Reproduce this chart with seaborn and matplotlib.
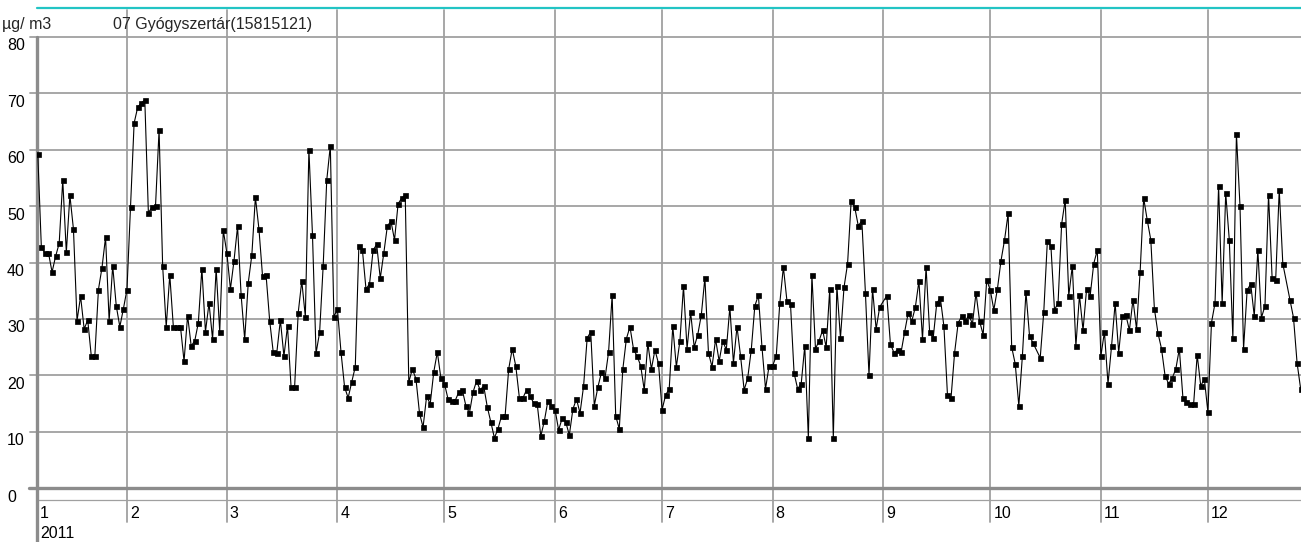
import numpy as np
import pandas as pd
import matplotlib
matplotlib.use("Agg")
import matplotlib.dates as mdates
from matplotlib import pyplot as plt
import seaborn as sns

# daily values, 07 Gyógyszertár station, 2011 (µg/m3)
seg_jan = [59.2, 42.7, 41.7, 41.7, 38.3, 41.1, 43.4, 54.6, 41.8, 51.9, 45.9, 29.7,
           34.0, 28.2, 29.8, 23.4, 23.5, 35.2, 39.1, 44.5, 29.7, 39.4, 32.3, 28.6,
           31.8, 35.2, 49.8, 64.7, 67.5, 68.3, 68.8, 48.8, 49.8, 50.0]
seg_feb = [63.5, 39.4, 28.6, 37.8, 28.6, 28.6, 28.6, 22.5, 30.6, 25.2, 26.1, 29.3,
           38.9, 27.7, 32.8, 26.4, 38.9, 27.7, 45.7, 41.7, 35.3, 40.3, 46.4, 34.2,
           26.4, 36.4, 41.3, 51.6, 45.9, 37.6, 37.7, 29.7, 24.1, 24.0, 29.8, 23.4]
seg_mar = [28.7, 17.9, 18.0, 31.1, 36.7, 30.4, 60.0, 44.9, 23.9, 27.6, 39.4, 54.6,
           60.7, 30.4, 31.7, 24.1, 17.9, 16.0, 18.8, 21.5, 42.9, 42.2, 35.3, 36.2,
           42.2, 43.2, 37.2, 41.7, 46.5, 47.3, 44.0, 50.4, 51.4, 52.0]
seg_apr = [18.8, 21.1, 19.4, 13.3, 10.8, 16.3, 14.9, 20.6, 24.1, 19.5, 18.5, 15.8,
           15.5, 15.5, 17.0, 17.4, 14.6, 13.3, 17.0, 19.0, 17.4, 18.1, 14.4, 11.7,
           8.9, 10.5, 12.8, 12.8, 21.1, 24.7, 21.6, 16.0, 16.0, 17.4, 16.3, 15.1]
seg_may = [14.9, 9.2, 11.9, 15.5, 14.6, 13.9, 10.3, 12.4, 11.7, 9.4, 14.0, 15.8,
           13.3, 18.1, 26.6, 27.7, 14.6, 17.9, 20.5, 19.5, 24.1, 34.2, 12.8, 10.5,
           21.1, 26.5, 28.6, 24.6, 23.4, 21.7, 17.4, 25.7, 21.1, 24.5, 22.1]
seg_jun = [13.9, 16.5, 17.6, 28.7, 21.5, 26.1, 35.8, 24.7, 31.2, 25.0, 27.2, 30.7,
           37.3, 24.0, 21.5, 26.4, 22.5, 26.1, 24.5, 32.1, 22.2, 28.6, 23.4, 17.4,
           19.5, 24.5, 32.3, 34.2, 25.0, 17.6, 21.7, 21.7, 23.4, 32.8, 39.2]
seg_aug = [33.2, 32.6, 20.4, 17.6, 18.5, 25.2, 8.9, 37.8, 24.7, 26.1, 28.0, 25.0,
           35.3, 8.9, 35.8, 26.6, 35.6, 39.8, 50.9, 49.8, 46.5, 47.4, 34.6, 20.0,
           35.3, 28.2, 32.1, 34.1, 25.6, 24.0, 24.5, 24.1, 27.7, 31.1]
seg_sep = [29.6, 32.1, 36.7, 26.4, 39.2, 27.7, 26.6, 32.8, 33.7, 28.7, 16.5, 16.0,
           24.0, 29.3, 30.5, 29.6, 30.7, 29.1, 34.6, 29.6, 27.2, 36.9, 35.1, 31.6,
           35.3, 40.3, 44.0, 48.7, 25.0, 22.0, 14.6, 23.4, 34.8, 27.0, 25.7]
seg_oct = [23.1, 31.3, 43.8, 42.9, 31.6, 32.8, 46.8, 51.1, 34.1, 39.4, 25.2, 34.2,
           28.0, 35.3, 34.1, 39.8, 42.2, 23.4, 27.7, 18.5, 25.2, 32.8, 24.0, 30.5,
           30.7, 28.0, 33.4, 28.2, 38.3, 51.4, 47.5, 44.0, 31.8, 27.5]
seg_dec = [24.7, 19.9, 18.5, 19.5, 21.1, 24.7, 16.0, 15.3, 14.9, 14.9, 23.6, 18.1,
           19.4, 13.5, 29.3, 32.8, 53.6, 32.8, 52.3, 44.0, 26.6, 62.8, 50.0, 24.7,
           35.1, 36.2, 30.5, 42.2, 30.2, 32.3, 52.0, 37.3, 36.9, 52.9, 39.8, 33.4,
           30.2, 22.2, 17.6]

first_day = "2011-01-07"
last_day = "2011-12-27"
missing_days = ["2011-09-01", "2011-10-14", "2011-12-23"]

y_ticks = [0, 10, 20, 30, 40, 50, 60, 70, 80]
month_labels = ["1", "2", "3", "4", "5", "6", "7", "8", "9", "10", "11", "12"]
year_label = "2011"
unit_label = "µg/ m3"
station_label = "07 Gyógyszertár(15815121)"

values = (seg_jan + seg_feb + seg_mar + seg_apr + seg_may + seg_jun
          + seg_aug + seg_sep + seg_oct + seg_dec)
dates = pd.date_range(first_day, last_day, freq="D")
dates = dates[~dates.isin(pd.to_datetime(missing_days))]
df = pd.DataFrame({"date": dates[:len(values)], "value": values[:len(dates)]})

sns.set_theme(style="white")
plt.rcParams["font.family"] = ["Liberation Sans", "DejaVu Sans"]

W, H = 1301, 542
fig = plt.figure(figsize=(W / 100, H / 100), dpi=100)
# plot box: x 37..1301, y 10..500 (pixels from top)
ax = fig.add_axes([37 / W, 42 / H, 1 - 37 / W, 490 / H])

grid_c = "#a0a0a0"
axis_c = "#8c8c8c"

sns.lineplot(data=df, x="date", y="value", ax=ax, color="black", linewidth=0.8,
             marker="s", markersize=3.6, markeredgecolor="black",
             markeredgewidth=0.5, zorder=5)

jan1 = mdates.date2num(pd.Timestamp("2011-01-01"))
ax.set_xlim(jan1 + 5.78, jan1 + 360.1)
ax.set_ylim(-2.11, 84.77)
ax.set_xticks([])
ax.set_yticks([])
ax.set_xlabel("")
ax.set_ylabel("")
for s in ["top", "right", "left"]:
    ax.spines[s].set_visible(False)
ax.spines["bottom"].set_color(grid_c)
ax.spines["bottom"].set_linewidth(0.9)

ytr = ax.get_yaxis_transform()
xtr = ax.get_xaxis_transform()

# horizontal grid
for v in y_ticks[1:]:
    ax.plot([-0.0055, 1], [v, v], transform=ytr, color=grid_c, lw=1.3,
            clip_on=False, zorder=1)
ax.plot([-0.0065, 1], [0, 0], transform=ytr, color=axis_c, lw=2.4,
        clip_on=False, zorder=2)

# month lines
month_starts = pd.date_range("2011-02-01", periods=11, freq="MS")
for d in month_starts:
    ax.plot([d, d], [-0.045, 1], transform=xtr, color=grid_c, lw=1.3,
            clip_on=False, zorder=1)

# left axis
ax.plot([0, 0], [0.9449, -0.0857], transform=ax.transAxes, color=axis_c,
        lw=2.4, clip_on=False, zorder=3)
# teal top line
ax.plot([0, 1], [1.005, 1.005], transform=ax.transAxes, color="#22c4c4",
        lw=1.6, clip_on=False, zorder=3)

fs = 11.5
for v in y_ticks:
    ax.annotate(str(v), xy=(7, v), xycoords=("figure pixels", "data"),
                xytext=(0, -9), textcoords="offset pixels",
                ha="left", va="center", fontsize=fs, color="black")

label_pos = [ax.get_xlim()[0]] + [mdates.date2num(d) for d in month_starts]
for pos, lab in zip(label_pos, month_labels):
    ax.annotate(lab, xy=(pos, 0), xycoords=("data", "axes fraction"),
                xytext=(3, -13), textcoords="offset pixels",
                ha="left", va="center", fontsize=fs, color="black")
ax.annotate(year_label, xy=(label_pos[0], 0), xycoords=("data", "axes fraction"),
            xytext=(3, -33), textcoords="offset pixels",
            ha="left", va="center", fontsize=fs, color="black")

fig.text(2 / W, 1 - 24 / H, unit_label, ha="left", va="center", fontsize=fs)
fig.text(113 / W, 1 - 24 / H, station_label, ha="left", va="center", fontsize=fs)

fig.savefig("out.png", dpi=100)
